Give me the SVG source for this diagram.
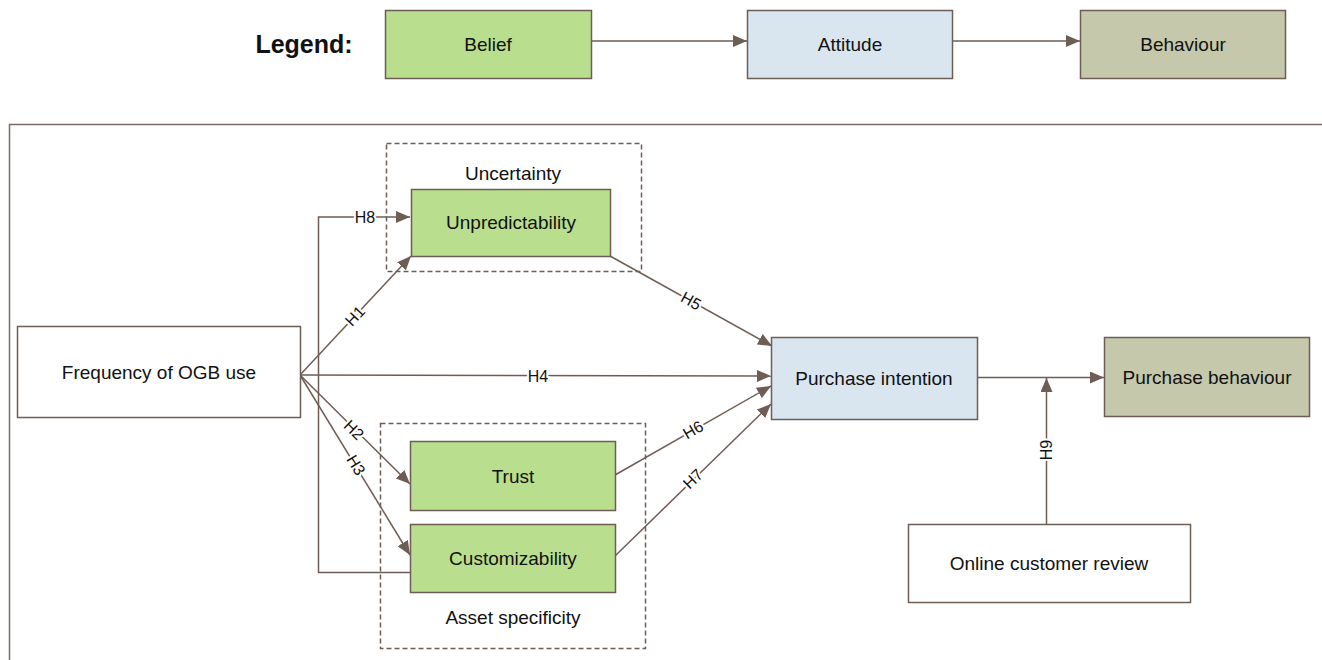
<svg xmlns="http://www.w3.org/2000/svg" width="1322" height="660" viewBox="0 0 1322 660">
<style>
.node{stroke:#6e5d55;stroke-width:1.5}
.belief{fill:#b9df8e}
.att{fill:#d9e6f0}
.beh{fill:#c5c8ab}
.plain{fill:#ffffff}
.t{font-family:"Liberation Sans",Arial,sans-serif;font-size:19px;fill:#111;text-anchor:middle;dominant-baseline:central}
.lbl{font-family:"Liberation Sans",Arial,sans-serif;font-size:16px;fill:#111;text-anchor:middle;dominant-baseline:central;stroke:#fff;stroke-width:4px;paint-order:stroke}
.c{fill:none;stroke:#6e5d55;stroke-width:1.5}
.dash{fill:none;stroke:#6e5d55;stroke-width:1.5;stroke-dasharray:5 3}
</style>
<defs>
<marker id="ah" viewBox="0 0 14 12" refX="14" refY="6" markerWidth="14" markerHeight="12" markerUnits="userSpaceOnUse" orient="auto">
<path d="M0,0 L14,6 L0,12 Z" fill="#6e5d55"/>
</marker>
</defs>
<rect width="1322" height="660" fill="#fff"/>
<path d="M9.5,660 V124.5 H1322" fill="none" stroke="#7a6a62" stroke-width="1.5"/>
<g id="legend">
<text x="304" y="44" font-family="Liberation Sans,Arial,sans-serif" font-size="25" font-weight="bold" text-anchor="middle" dominant-baseline="central" fill="#111">Legend:</text>
<g id="leg-belief"><rect class="node belief" x="385.5" y="10.5" width="206" height="68"/><text class="t" x="488" y="44">Belief</text></g>
<g id="leg-attitude"><rect class="node att" x="747.5" y="10.5" width="205" height="68"/><text class="t" x="850" y="44">Attitude</text></g>
<g id="leg-behaviour"><rect class="node beh" x="1080.5" y="10.5" width="205" height="68"/><text class="t" x="1183" y="44">Behaviour</text></g>
</g>
<g id="groups">
<rect class="dash" x="386.5" y="143.5" width="255" height="128"/>
<text class="t" x="513" y="173">Uncertainty</text>
<rect class="dash" x="380.5" y="423.5" width="265" height="225"/>
<text class="t" x="513" y="617">Asset specificity</text>
</g>
<g id="connectors">
<line class="c" x1="591.5" y1="41" x2="747" y2="41" marker-end="url(#ah)"/>
<line class="c" x1="952.5" y1="41" x2="1080" y2="41" marker-end="url(#ah)"/>
<polyline class="c" points="410,572.5 318.5,572.5 318.5,217 410,217" marker-end="url(#ah)"/>
<line class="c" x1="300" y1="375" x2="411" y2="256" marker-end="url(#ah)"/>
<line class="c" x1="300" y1="375" x2="771" y2="376" marker-end="url(#ah)"/>
<line class="c" x1="300" y1="375" x2="410" y2="484" marker-end="url(#ah)"/>
<line class="c" x1="300" y1="375" x2="410" y2="555" marker-end="url(#ah)"/>
<line class="c" x1="610" y1="256" x2="772" y2="346" marker-end="url(#ah)"/>
<line class="c" x1="615" y1="475" x2="771" y2="386" marker-end="url(#ah)"/>
<line class="c" x1="615" y1="556" x2="771" y2="404" marker-end="url(#ah)"/>
<line class="c" x1="977" y1="377.5" x2="1104" y2="377.5" marker-end="url(#ah)"/>
<line class="c" x1="1046.5" y1="524" x2="1046.5" y2="378" marker-end="url(#ah)"/>
<text class="lbl" x="365" y="217">H8</text>
<text class="lbl" transform="translate(355,316) rotate(-47)">H1</text>
<text class="lbl" x="538" y="376">H4</text>
<text class="lbl" transform="translate(354,430) rotate(44.5)">H2</text>
<text class="lbl" transform="translate(356,465) rotate(58.6)">H3</text>
<text class="lbl" transform="translate(691,301) rotate(29)">H5</text>
<text class="lbl" transform="translate(693,430) rotate(-30)">H6</text>
<text class="lbl" transform="translate(693,479) rotate(-44)">H7</text>
<text class="lbl" transform="translate(1046,450) rotate(-90)">H9</text>
</g>
<g id="freq"><rect class="node plain" x="17.5" y="326.5" width="283" height="91"/><text class="t" x="159" y="372">Frequency of OGB use</text></g>
<g id="unpred"><rect class="node belief" x="411.5" y="189.5" width="199" height="67"/><text class="t" x="511" y="222">Unpredictability</text></g>
<g id="trust"><rect class="node belief" x="410.5" y="441.5" width="205" height="69"/><text class="t" x="513" y="476">Trust</text></g>
<g id="custom"><rect class="node belief" x="410.5" y="524.5" width="205" height="68"/><text class="t" x="513" y="558">Customizability</text></g>
<g id="pintent"><rect class="node att" x="771.5" y="337.5" width="206" height="82"/><text class="t" x="874" y="378">Purchase intention</text></g>
<g id="pbeh"><rect class="node beh" x="1104.5" y="337.5" width="205" height="79"/><text class="t" x="1207" y="377">Purchase behaviour</text></g>
<g id="review"><rect class="node plain" x="908.5" y="524.5" width="282" height="78"/><text class="t" x="1049" y="563">Online customer review</text></g>
</svg>
